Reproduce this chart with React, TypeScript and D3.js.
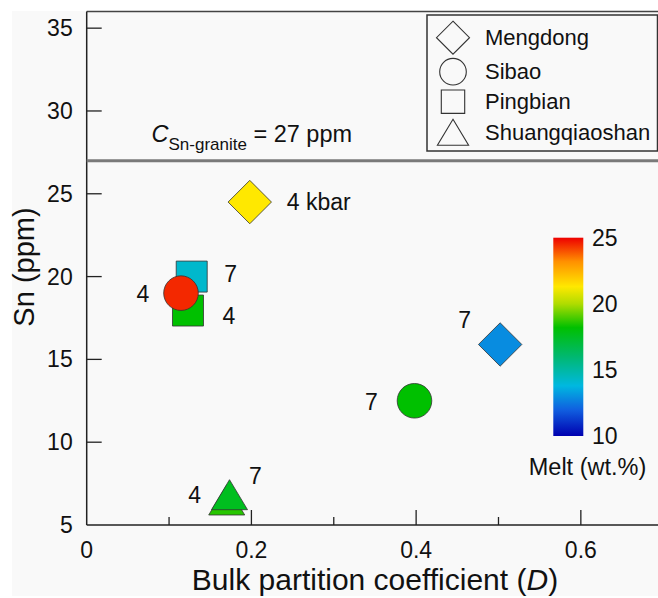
import * as d3 from 'd3';

const W = 658;
const H = 598;
const FONT = '"Liberation Sans", Arial, Helvetica, sans-serif';

// legend entries
const sites = ['Mengdong', 'Sibao', 'Pingbian', 'Shuangqiaoshan'];
const siteShapes = ['diamond', 'circle', 'square', 'triangle'];

// experiments (drawn in this order)
const pointSite = ['Mengdong', 'Mengdong', 'Pingbian', 'Pingbian', 'Sibao', 'Sibao', 'Shuangqiaoshan', 'Shuangqiaoshan'];
const pointLabel = ['4 kbar', '7', '7', '4', '7', '4', '4', '7'];
const pointD = [0.198, 0.502, 0.1275, 0.123, 0.398, 0.1145, 0.17, 0.1734];
const pointSn = [24.5, 15.9, 20.0, 17.95, 12.5, 19.0, 6.51, 6.83];
const pointMelt = [21.3, 12.9, 14.2, 18.2, 18.2, 24.5, 18.6, 17.6];

// colour map for melt fraction
const meltStops = [10, 12, 13.8, 16, 18.2, 20, 21.3, 23.2, 25];
const meltColors = ['#0000b0', '#1060e0', '#00b8e0', '#00b870', '#00c000', '#b0dc00', '#ffe800', '#ff9000', '#ee0000'];
const meltTicks = [10, 15, 20, 25];

const xTicks = [0, 0.2, 0.4, 0.6];
const xMinorTicks = [0.1, 0.3, 0.5];
const yTicks = [5, 10, 15, 20, 25, 30, 35];
const graniteSn = 27;

// label placement relative to marker centre (px)
const labelOffsets: [number, number, string][] = [
  [37, 0, 'start'],
  [-35.5, -24, 'middle'],
  [39, -3, 'middle'],
  [41, 5, 'middle'],
  [-43, 1, 'middle'],
  [-38, 1, 'middle'],
  [-32, -5, 'middle'],
  [26, -19, 'middle'],
];

function shapePath(shape: string, cx: number, cy: number, s: number) {
  // s = half size
  if (shape === 'diamond') {
    return `M${cx},${cy - s}L${cx + s},${cy}L${cx},${cy + s}L${cx - s},${cy}Z`;
  }
  if (shape === 'square') {
    return `M${cx - s},${cy - s}H${cx + s}V${cy + s}H${cx - s}Z`;
  }
  if (shape === 'triangle') {
    const hw = s * 1.2;
    return `M${cx},${cy - s}L${cx + hw},${cy + s}L${cx - hw},${cy + s}Z`;
  }
  const p = d3.path();
  p.arc(cx, cy, s, 0, Math.PI * 2);
  return p.toString();
}

const markerSize: Record<string, number> = { diamond: 21.7, circle: 17.3, square: 15.5, triangle: 15 };
const legendSize: Record<string, number> = { diamond: 16.5, circle: 13.3, square: 11.7, triangle: 13 };

export default function App() {
  const x = d3.scaleLinear().domain([0, 0.7]).range([86.7, 663.2]);
  const y = d3.scaleLinear().domain([5, 36]).range([525, 11.6]);
  const color = d3.scaleLinear<string>().domain(meltStops).range(meltColors).interpolate(d3.interpolateRgb);
  const cb = d3.scaleLinear().domain([10, 25]).range([436, 237.7]);

  const x0 = x(0);
  const y0 = y(5);
  const right = W;
  const top = y(36);

  const legendY = [37.7, 71.7, 101.7, 132.3];

  return (
    <svg width={W} height={H} style={{ position: 'absolute', left: 0, top: 0 }} fontFamily={FONT}>
      <defs>
        <linearGradient id="meltGrad" x1="0" y1="1" x2="0" y2="0">
          {meltStops.map((m, i) => (
            <stop key={m} offset={`${((m - 10) / 15) * 100}%`} stopColor={meltColors[i]} />
          ))}
        </linearGradient>
      </defs>
      <rect x={0} y={0} width={W} height={H} fill="#ffffff" />
      <rect x={12} y={11} width={W - 12} height={585} fill="#f9f9f9" />

      {/* frame */}
      <line x1={x0} x2={right} y1={top} y2={top} stroke="#444" strokeWidth={1.5} />
      <line x1={x0} x2={x0} y1={top} y2={y0} stroke="#222" strokeWidth={1.5} />
      <line x1={x0} x2={right} y1={y0} y2={y0} stroke="#222" strokeWidth={1.5} />

      {/* y ticks */}
      {yTicks.map(t => (
        <g key={t}>
          {t !== 5 && <line x1={x0} x2={x0 + 15} y1={y(t)} y2={y(t)} stroke="#222" strokeWidth={1.3} />}
          <text x={72.7} y={y(t) + 8} textAnchor="end" fontSize={23} fill="#111">{t}</text>
        </g>
      ))}
      {/* x ticks */}
      {xTicks.map(t => (
        <g key={t}>
          {t !== 0 && <line x1={x(t)} x2={x(t)} y1={y0} y2={y0 - 15} stroke="#222" strokeWidth={1.3} />}
          <text x={x(t)} y={558} textAnchor="middle" fontSize={23} fill="#111">{t === 0 ? '0' : t.toString()}</text>
        </g>
      ))}
      {xMinorTicks.map(t => (
        <line key={t} x1={x(t)} x2={x(t)} y1={y0} y2={y0 - 8} stroke="#222" strokeWidth={1.3} />
      ))}

      {/* axis titles */}
      <text x={375} y={590} textAnchor="middle" fontSize={30} fill="#111">
        Bulk partition coefficient (<tspan fontStyle="italic">D</tspan>)
      </text>
      <text transform="translate(34,267) rotate(-90)" textAnchor="middle" fontSize={29} fill="#111">Sn (ppm)</text>

      {/* granite Sn line */}
      <line x1={x0} x2={right} y1={y(graniteSn)} y2={y(graniteSn)} stroke="#7a7a7a" strokeWidth={3} />
      <text x={151.5} y={142.3} fontSize={23.5} fill="#111">
        <tspan fontStyle="italic">C</tspan>
        <tspan fontSize={17} dy={7.7}>Sn-granite</tspan>
        <tspan dy={-7.7}> = 27 ppm</tspan>
      </text>

      {/* data markers */}
      {pointD.map((d, i) => {
        const shape = siteShapes[sites.indexOf(pointSite[i])];
        return (
          <path
            key={i}
            d={shapePath(shape, x(d), y(pointSn[i]), markerSize[shape])}
            fill={color(pointMelt[i])}
            stroke="#333"
            strokeWidth={0.8}
          />
        );
      })}
      {pointD.map((d, i) => {
        const [dx, dy, anchor] = labelOffsets[i];
        return (
          <text key={i} x={x(d) + dx} y={y(pointSn[i]) + dy + 8} textAnchor={anchor} fontSize={23} fill="#111">
            {pointLabel[i]}
          </text>
        );
      })}

      {/* legend */}
      <rect x={427} y={15} width={230.5} height={136} fill="#f9f9f9" stroke="#333" strokeWidth={1.5} />
      {sites.map((s, i) => (
        <g key={s}>
          <path d={shapePath(siteShapes[i], 453, legendY[i], legendSize[siteShapes[i]])} fill="none" stroke="#333" strokeWidth={1.1} />
          <text x={485} y={legendY[i] + 7.5} fontSize={22} fill="#111">{s}</text>
        </g>
      ))}

      {/* colour bar */}
      <rect x={553.3} y={cb(25)} width={30} height={cb(10) - cb(25)} fill="url(#meltGrad)" />
      {meltTicks.map(t => (
        <text key={t} x={592} y={cb(t) + 8.3} fontSize={23} fill="#111">{t}</text>
      ))}
      <text x={587.5} y={475} textAnchor="middle" fontSize={23.5} fill="#111">Melt (wt.%)</text>
    </svg>
  );
}
